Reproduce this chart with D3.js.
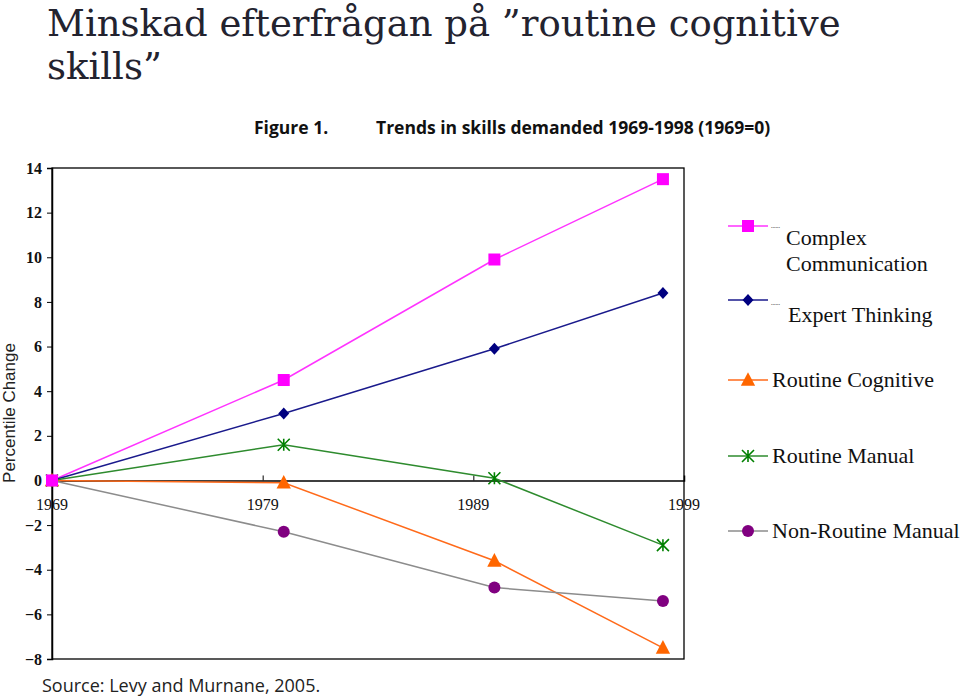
<!DOCTYPE html>
<html><head><meta charset="utf-8">
<script src="https://cdn.jsdelivr.net/npm/d3@7"></script>
<style>body{margin:0;background:#fff}svg{display:block}</style>
</head><body>
<svg id="c" width="960" height="700"></svg>
<script>
const years = [1969, 1980, 1990, 1998];
const seriesNames = ["Complex Communication", "Expert Thinking", "Routine Cognitive", "Routine Manual", "Non-Routine Manual"];
const complexComm = [0, 4.5, 9.9, 13.5];
const expertThinking = [0, 3.0, 5.9, 8.4];
const routineCognitive = [0, -0.1, -3.6, -7.5];
const routineManual = [0, 1.6, 0.1, -2.9];
const nonRoutineManual = [0, -2.3, -4.8, -5.4];
const xTicks = [1969, 1979, 1989, 1999];
const yTicks = [-8, -6, -4, -2, 0, 2, 4, 6, 8, 10, 12, 14];

const series = [
  {name: seriesNames[0], values: complexComm, line: "#ff33ff", fill: "#ff00ff", marker: "square"},
  {name: seriesNames[1], values: expertThinking, line: "#1a1a8c", fill: "#000080", marker: "diamond"},
  {name: seriesNames[2], values: routineCognitive, line: "#ff6a1a", fill: "#ff6600", marker: "triangle"},
  {name: seriesNames[3], values: routineManual, line: "#2e8b2e", fill: "#008000", marker: "asterisk"},
  {name: seriesNames[4], values: nonRoutineManual, line: "#8c8c8c", fill: "#800080", marker: "circle"}
];

const svg = d3.select("#c");
const L = 52, R = 684, T = 168, B = 659;
const x = d3.scaleLinear().domain([1969, 1999]).range([L, R]);
const y = d3.scaleLinear().domain([-8, 14]).range([B, T]);

// Title
const title = svg.append("text").attr("font-family", "DejaVu Serif").attr("font-size", 37).attr("fill", "#23232f");
title.append("tspan").attr("x", 47).attr("y", 36).text("Minskad efterfrågan på ”routine cognitive");
title.append("tspan").attr("x", 47).attr("y", 79).text("skills”");

// Figure caption
svg.append("text").attr("x", 254).attr("y", 134).attr("font-family", "Open Sans, sans-serif").attr("font-weight", "bold")
  .attr("font-size", 17.5).attr("fill", "#111").text("Figure 1.");
svg.append("text").attr("x", 376).attr("y", 134).attr("font-family", "Open Sans, sans-serif").attr("font-weight", "bold")
  .attr("font-size", 17.5).attr("fill", "#111").text("Trends in skills demanded 1969-1998 (1969=0)");

// Frame
svg.append("rect").attr("x", L).attr("y", T).attr("width", R - L).attr("height", B - T)
  .attr("fill", "none").attr("stroke", "#000").attr("stroke-width", 1.3);

// Y axis
const yAxis = d3.axisLeft(y).tickValues(yTicks).tickSize(5).tickFormat(d3.format("d"));
const gy = svg.append("g").attr("transform", `translate(${L},0)`).call(yAxis);
gy.select(".domain").attr("stroke-width", 1.5);
gy.selectAll("text").attr("font-family", "Liberation Serif").attr("font-weight", "bold").attr("font-size", 16).attr("fill", "#111").attr("x", -10);

// X axis at y=0
const xAxis = d3.axisTop(x).tickValues(xTicks.slice(1, 3)).tickSize(5).tickFormat("");
const gx = svg.append("g").attr("transform", `translate(0,${y(0)})`).call(xAxis);
gx.select(".domain").attr("stroke-width", 1.5);
svg.append("g").selectAll("text").data(xTicks).join("text")
  .attr("x", d => x(d)).attr("y", y(0) + 30).attr("text-anchor", "middle")
  .attr("font-family", "Liberation Serif").attr("font-size", 16).attr("fill", "#111").text(d => d);

// Y axis title
svg.append("text").attr("transform", "translate(15,413) rotate(-90)").attr("text-anchor", "middle")
  .attr("font-family", "Liberation Sans, sans-serif").attr("font-size", 17).attr("fill", "#222").text("Percentile Change");

function drawMarker(g, type, cx, cy, color, s) {
  if (type === "square") g.append("rect").attr("x", cx - s/2).attr("y", cy - s/2).attr("width", s).attr("height", s).attr("fill", color);
  else if (type === "diamond") g.append("path").attr("d", `M${cx},${cy - s*0.55}L${cx + s*0.5},${cy}L${cx},${cy + s*0.55}L${cx - s*0.5},${cy}Z`).attr("fill", color);
  else if (type === "triangle") g.append("path").attr("d", `M${cx},${cy - s*0.6}L${cx + s*0.55},${cy + s*0.45}L${cx - s*0.55},${cy + s*0.45}Z`).attr("fill", color);
  else if (type === "circle") g.append("circle").attr("cx", cx).attr("cy", cy).attr("r", s/2).attr("fill", color);
  else if (type === "asterisk") {
    const h = s/2;
    g.append("path").attr("d", `M${cx - h},${cy - h}L${cx + h},${cy + h}M${cx - h},${cy + h}L${cx + h},${cy - h}M${cx},${cy - h}L${cx},${cy + h}`)
      .attr("stroke", color).attr("stroke-width", 1.6).attr("fill", "none");
  }
}

const lineGen = d3.line().x(d => x(d[0])).y(d => y(d[1]));
const sizes = {square: 12, diamond: 11, triangle: 13, asterisk: 12, circle: 12};
series.forEach(s => {
  const pts = years.map((yr, i) => [yr, s.values[i]]);
  svg.append("path").datum(pts).attr("d", lineGen).attr("fill", "none").attr("stroke", s.line).attr("stroke-width", 1.5);
});
series.slice().reverse().forEach(s => {
  const g = svg.append("g");
  years.forEach((yr, i) => drawMarker(g, s.marker, x(yr), y(s.values[i]), s.fill, sizes[s.marker]));
});

// Legend
const legendItems = [
  {s: series[0], my: 226, lines: ["Complex", "Communication"], tx: 786, ty: 245, pre: true},
  {s: series[1], my: 300, lines: ["Expert Thinking"], tx: 788, ty: 322, pre: true},
  {s: series[2], my: 380, lines: ["Routine Cognitive"], tx: 772, ty: 387, pre: false},
  {s: series[3], my: 456, lines: ["Routine Manual"], tx: 772, ty: 463, pre: false},
  {s: series[4], my: 531, lines: ["Non-Routine Manual"], tx: 772, ty: 538, pre: false}
];
legendItems.forEach(it => {
  const g = svg.append("g");
  g.append("line").attr("x1", 728).attr("x2", 768).attr("y1", it.my).attr("y2", it.my).attr("stroke", it.s.line).attr("stroke-width", 1.5);
  drawMarker(g, it.s.marker, 748, it.my, it.s.fill, sizes[it.s.marker]);
  if (it.pre) g.append("text").attr("x", 771).attr("y", it.ty - 13).attr("font-family", "Liberation Serif").attr("font-size", 9).attr("fill", "#333").text("¨¨¨");
  const t = g.append("text").attr("font-family", "Liberation Serif").attr("font-size", 22).attr("fill", "#111");
  it.lines.forEach((ln, k) => t.append("tspan").attr("x", it.tx).attr("y", it.ty + k * 26).text(ln));
});

// Source
svg.append("text").attr("x", 42).attr("y", 692).attr("font-family", "Open Sans, sans-serif").attr("font-size", 18).attr("fill", "#222")
  .text("Source: Levy and Murnane, 2005.");
</script>
</body></html>
